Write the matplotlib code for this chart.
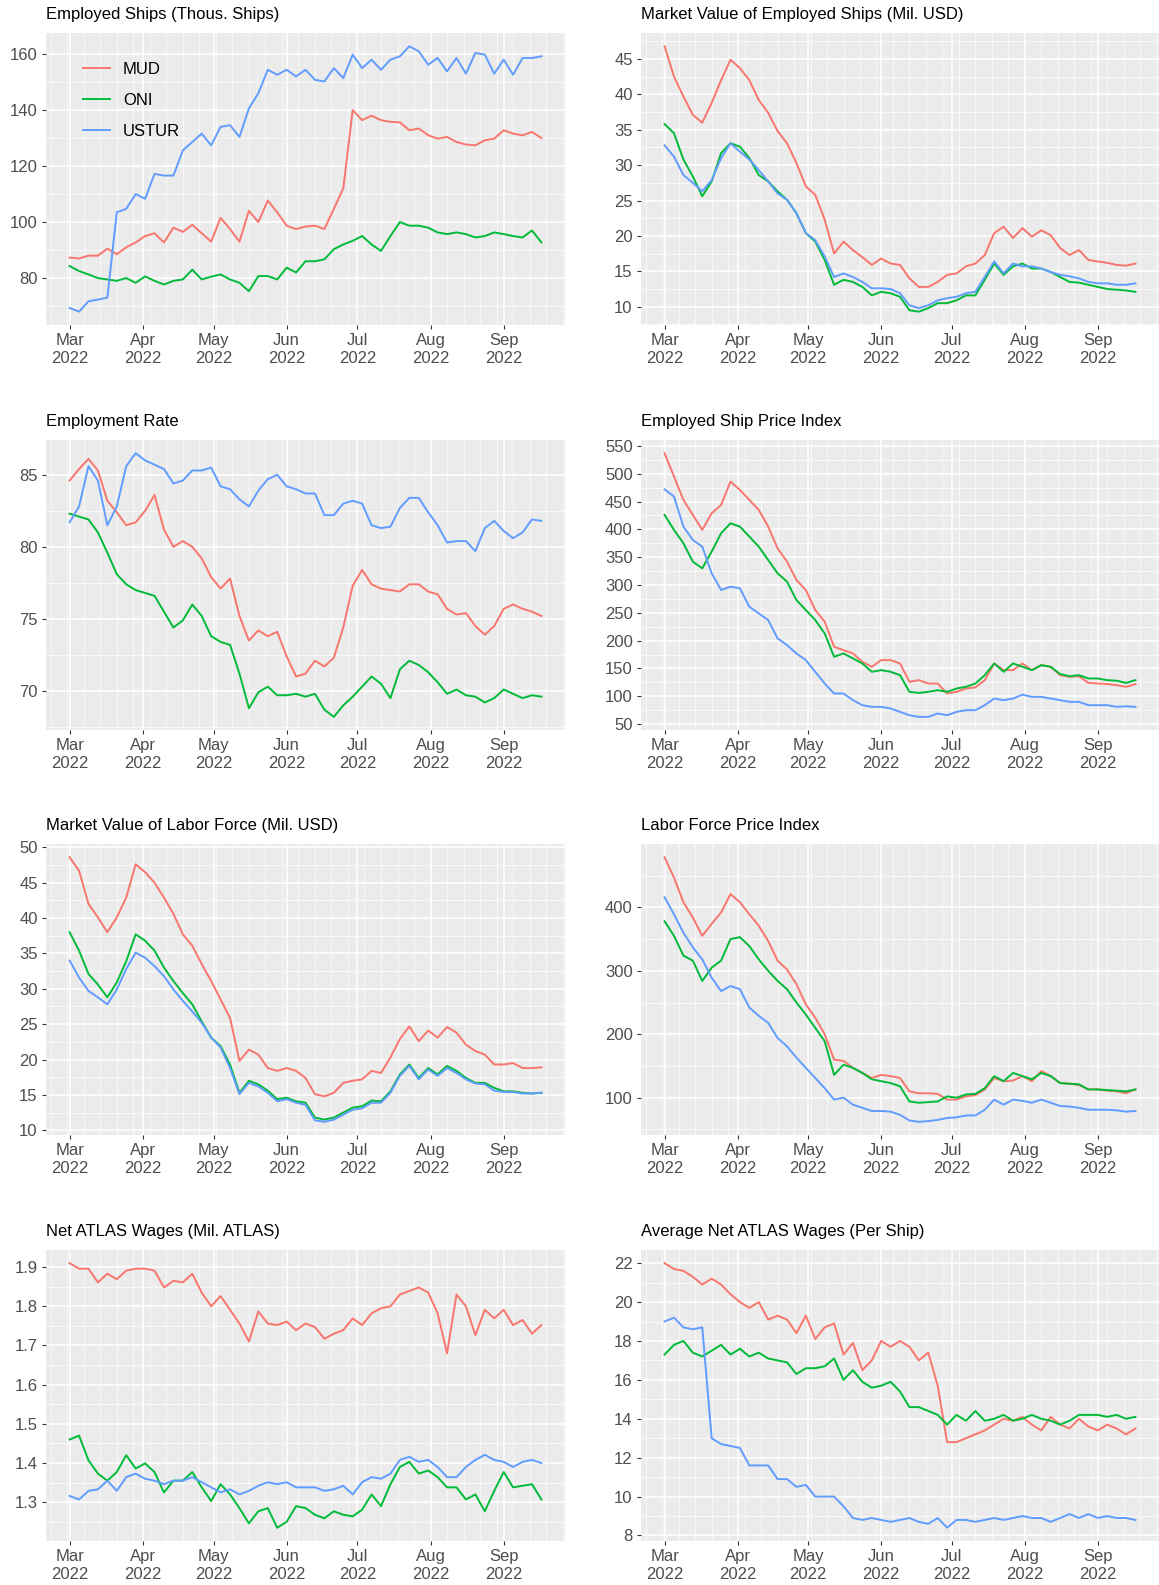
import pandas as pd
import matplotlib
matplotlib.use('Agg')
from matplotlib import pyplot as plt
import matplotlib.dates as mdates
from matplotlib.ticker import MultipleLocator

plt.rcParams['font.family'] = ['Liberation Sans', 'DejaVu Sans']

# every 4th day, 1 Mar .. 17 Sep 2022
dates = pd.date_range('2022-03-01', '2022-09-17', freq='4D')
groups = ['MUD', 'ONI', 'USTUR']
colors = ['#F8766D', '#00BA38', '#619CFF']

ships_mud = [87.3, 87, 88, 88, 90.5, 88.5, 91, 92.7, 95, 96, 92.7, 98, 96.5, 99, 96, 93, 101.5, 97.5, 93, 104,
             100, 107.7, 103.5, 98.7, 97.5, 98.4, 98.7, 97.5, 104.7, 112, 140, 136.4, 138, 136.4, 135.8, 135.6,
             132.8, 133.4, 131, 129.8, 130.4, 128.6, 127.7, 127.4, 129.2, 129.8, 132.8, 131.6, 131, 132.2, 130]
ships_oni = [84.3, 82.5, 81.3, 80, 79.5, 79, 80, 78.3, 80.6, 79, 77.7, 79, 79.5, 83, 79.5, 80.5, 81.3, 79.5, 78.3,
             75.3, 80.7, 80.7, 79.5, 83.7, 82, 86, 86, 86.7, 90.3, 92, 93.3, 95, 92, 89.7, 95, 100, 98.7, 98.7,
             98, 96.3, 95.7, 96.3, 95.7, 94.5, 95, 96.3, 95.7, 95, 94.5, 97, 92.7]
ships_ustur = [69.3, 68, 71.7, 72.3, 73, 103.5, 104.7, 110, 108.3, 117.2, 116.6, 116.6, 125.6, 128.6, 131.6,
               127.4, 134, 134.6, 130.4, 140.6, 146, 154.4, 152.6, 154.4, 152, 154.4, 150.8, 150.2, 155, 151.4,
               159.8, 155, 158, 154.4, 158, 159.2, 162.8, 161, 156.2, 158.6, 153.8, 158.6, 153, 160.4, 159.8,
               153, 158, 152.6, 158.6, 158.6, 159.2]

mv_ships_mud = [46.8, 42.5, 39.7, 37.1, 36, 38.8, 42, 44.9, 43.7, 42, 39.2, 37.4, 34.8, 33.1, 30.3, 27, 25.8,
                22.3, 17.5, 19.2, 18, 17, 15.9, 16.8, 16.1, 15.9, 14, 12.8, 12.8, 13.5, 14.5, 14.7, 15.7, 16.1,
                17.3, 20.4, 21.3, 19.7, 21.1, 19.9, 20.8, 20.1, 18.3, 17.3, 18, 16.6, 16.4, 16.2, 15.9, 15.8, 16.1]
mv_ships_oni = [35.8, 34.5, 30.8, 28.4, 25.6, 27.7, 31.7, 33.1, 32.6, 31, 28.6, 27.7, 26.3, 25.1, 23.2, 20.4,
                19.2, 16.6, 13.1, 13.8, 13.5, 12.8, 11.6, 12.1, 11.9, 11.4, 9.5, 9.3, 9.8, 10.5, 10.5, 10.9, 11.6,
                11.6, 13.8, 16.1, 14.5, 15.7, 16.1, 15.4, 15.4, 14.9, 14.2, 13.5, 13.4, 13.1, 12.8, 12.5, 12.4,
                12.3, 12.1]
mv_ships_ustur = [32.8, 31.2, 28.6, 27.5, 26.3, 27.9, 31, 33.1, 31.9, 30.8, 29.3, 27.7, 26, 25.1, 23.2, 20.4,
                  19.4, 17.1, 14.2, 14.7, 14.2, 13.5, 12.6, 12.6, 12.5, 11.9, 10.2, 9.8, 10.2, 10.9, 11.2, 11.4,
                  11.9, 12.1, 14.2, 16.4, 14.7, 16.1, 15.7, 15.7, 15.4, 14.9, 14.5, 14.3, 14, 13.5, 13.3, 13.3,
                  13.1, 13.1, 13.3]

rate_mud = [84.6, 85.4, 86.1, 85.3, 83.2, 82.4, 81.5, 81.7, 82.5, 83.6, 81.2, 80, 80.4, 80, 79.2, 77.9, 77.1,
            77.8, 75.2, 73.5, 74.2, 73.8, 74.1, 72.4, 71, 71.2, 72.1, 71.7, 72.3, 74.4, 77.3, 78.4, 77.4, 77.1,
            77, 76.9, 77.4, 77.4, 76.9, 76.7, 75.7, 75.3, 75.4, 74.5, 73.9, 74.5, 75.7, 76, 75.7, 75.5, 75.2]
rate_oni = [82.3, 82.1, 81.9, 81, 79.6, 78.1, 77.4, 77, 76.8, 76.6, 75.5, 74.4, 74.9, 76, 75.2, 73.8, 73.4,
            73.2, 71.2, 68.8, 69.9, 70.3, 69.7, 69.7, 69.8, 69.6, 69.8, 68.7, 68.2, 69, 69.6, 70.3, 71, 70.5,
            69.5, 71.5, 72.1, 71.8, 71.3, 70.6, 69.8, 70.1, 69.7, 69.6, 69.2, 69.5, 70.1, 69.8, 69.5, 69.7, 69.6]
rate_ustur = [81.7, 82.8, 85.6, 84.6, 81.5, 82.8, 85.6, 86.5, 86, 85.7, 85.4, 84.4, 84.6, 85.3, 85.3, 85.5,
              84.2, 84, 83.3, 82.8, 83.9, 84.7, 85, 84.2, 84, 83.7, 83.7, 82.2, 82.2, 83, 83.2, 83, 81.5, 81.3,
              81.4, 82.7, 83.4, 83.4, 82.4, 81.5, 80.3, 80.4, 80.4, 79.7, 81.3, 81.8, 81.1, 80.6, 81, 81.9, 81.8]

spi_mud = [537, 495, 453, 426, 399, 429, 444, 486, 471, 453, 435, 405, 366, 342, 309, 291, 255, 234, 189, 183,
           177, 162, 153, 165, 165, 159, 126, 129, 123, 123, 105, 108, 114, 116, 129, 159, 147, 147, 159, 147,
           156, 153, 138, 135, 136, 124, 123, 122, 120, 117, 122]
spi_oni = [426, 399, 375, 342, 330, 360, 393, 411, 405, 387, 369, 345, 321, 306, 273, 255, 237, 213, 171, 177,
           168, 159, 144, 147, 144, 138, 108, 106, 108, 111, 108, 114, 117, 123, 138, 159, 144, 159, 153, 147,
           156, 153, 140, 136, 138, 132, 132, 129, 128, 124, 129]
spi_ustur = [472, 459, 405, 381, 369, 321, 291, 297, 294, 261, 249, 237, 204, 192, 177, 165, 144, 123, 105, 105,
             93, 84, 81, 81, 78, 72, 66, 63, 63, 69, 66, 72, 75, 75, 84, 96, 93, 96, 103, 99, 99, 96, 93, 90, 90,
             84, 84, 84, 81, 82, 81]

mv_labor_mud = [48.6, 46.7, 42, 40.1, 38, 40.1, 42.9, 47.6, 46.5, 45, 42.9, 40.6, 37.7, 36.1, 33.5, 31.1, 28.5,
                25.9, 19.8, 21.4, 20.7, 18.8, 18.4, 18.8, 18.4, 17.4, 15.1, 14.8, 15.3, 16.7, 17, 17.2, 18.4,
                18.1, 20.3, 22.9, 24.7, 22.6, 24.1, 23.1, 24.6, 23.8, 22.1, 21.2, 20.7, 19.3, 19.3, 19.5, 18.8,
                18.8, 18.9]
mv_labor_oni = [38, 35.4, 32.1, 30.6, 28.8, 30.9, 33.9, 37.7, 36.8, 35.4, 33, 31.1, 29.4, 27.8, 25.4, 23.1, 21.9,
                19.3, 15.3, 17, 16.5, 15.6, 14.4, 14.6, 14.1, 13.9, 11.8, 11.5, 11.8, 12.5, 13.2, 13.4, 14.2,
                14.1, 15.5, 17.9, 19.3, 17.4, 18.8, 17.9, 19.1, 18.4, 17.4, 16.7, 16.7, 16, 15.5, 15.5, 15.3,
                15.2, 15.3]
mv_labor_ustur = [34, 31.6, 29.7, 28.8, 27.8, 29.9, 32.8, 35.1, 34.4, 33.2, 31.8, 29.9, 28.3, 26.8, 25.2, 23.1,
                  21.7, 18.8, 15.1, 16.7, 16.2, 15.3, 14.1, 14.4, 13.9, 13.6, 11.4, 11.2, 11.5, 12.2, 12.9, 13.1,
                  13.9, 13.9, 15.3, 17.7, 19.1, 17.2, 18.6, 17.7, 18.8, 18.1, 17.2, 16.6, 16.5, 15.6, 15.4, 15.4,
                  15.2, 15.2, 15.3]

lpi_mud = [479, 447, 408, 384, 355, 374, 392, 421, 408, 389, 371, 347, 316, 302, 279, 247, 226, 200, 160, 158,
           147, 139, 131, 136, 134, 131, 110, 107, 107, 106, 97, 97, 102, 104, 113, 131, 126, 127, 134, 126, 142,
           134, 123, 122, 120, 113, 113, 111, 110, 107, 113]
lpi_oni = [378, 355, 324, 316, 284, 305, 316, 350, 353, 339, 318, 300, 284, 271, 250, 231, 210, 189, 136, 152,
           147, 139, 129, 126, 123, 118, 94, 92, 93, 94, 102, 100, 105, 106, 115, 134, 126, 139, 134, 129, 139,
           134, 123, 122, 121, 113, 113, 112, 111, 110, 113]
lpi_ustur = [416, 389, 360, 337, 318, 289, 268, 276, 271, 242, 229, 218, 194, 181, 163, 147, 131, 115, 97, 100,
             89, 84, 79, 79, 78, 73, 64, 62, 63, 65, 68, 69, 72, 72, 81, 97, 89, 97, 95, 92, 97, 92, 87, 86, 84,
             81, 81, 81, 80, 78, 79]

wages_mud = [1.91, 1.896, 1.896, 1.861, 1.883, 1.869, 1.891, 1.896, 1.896, 1.891, 1.848, 1.865, 1.861, 1.883,
             1.835, 1.8, 1.826, 1.791, 1.756, 1.71, 1.787, 1.756, 1.752, 1.761, 1.739, 1.756, 1.747, 1.717, 1.73,
             1.739, 1.769, 1.752, 1.782, 1.795, 1.8, 1.83, 1.839, 1.848, 1.835, 1.782, 1.68, 1.83, 1.8, 1.726,
             1.791, 1.769, 1.791, 1.752, 1.765, 1.73, 1.752]
wages_oni = [1.46, 1.47, 1.407, 1.373, 1.355, 1.377, 1.42, 1.386, 1.399, 1.377, 1.325, 1.355, 1.355, 1.377,
             1.338, 1.303, 1.346, 1.32, 1.285, 1.246, 1.277, 1.285, 1.235, 1.25, 1.29, 1.285, 1.268, 1.259, 1.277,
             1.268, 1.264, 1.281, 1.32, 1.29, 1.346, 1.39, 1.403, 1.373, 1.381, 1.364, 1.338, 1.338, 1.307, 1.32,
             1.277, 1.329, 1.377, 1.338, 1.342, 1.346, 1.307]
wages_ustur = [1.316, 1.307, 1.329, 1.333, 1.355, 1.329, 1.364, 1.373, 1.36, 1.355, 1.346, 1.355, 1.355, 1.364,
               1.351, 1.338, 1.325, 1.333, 1.32, 1.329, 1.342, 1.351, 1.346, 1.351, 1.338, 1.338, 1.338, 1.329,
               1.333, 1.342, 1.32, 1.351, 1.364, 1.36, 1.373, 1.408, 1.416, 1.403, 1.408, 1.39, 1.364, 1.364,
               1.39, 1.408, 1.421, 1.408, 1.403, 1.39, 1.403, 1.408, 1.4]

avg_mud = [22, 21.7, 21.6, 21.3, 20.9, 21.2, 20.9, 20.4, 20, 19.7, 20, 19.1, 19.3, 19.1, 18.4, 19.3, 18.1, 18.7,
           18.9, 17.3, 17.9, 16.5, 17, 18, 17.7, 18, 17.7, 17, 17.4, 15.7, 12.8, 12.8, 13, 13.2, 13.4, 13.7, 14,
           13.9, 14.1, 13.7, 13.4, 14.1, 13.7, 13.5, 14, 13.6, 13.4, 13.7, 13.5, 13.2, 13.5]
avg_oni = [17.3, 17.8, 18, 17.4, 17.2, 17.5, 17.8, 17.3, 17.6, 17.2, 17.4, 17.1, 17, 16.9, 16.3, 16.6, 16.6, 16.7,
           17.1, 16, 16.5, 15.9, 15.6, 15.7, 15.9, 15.4, 14.6, 14.6, 14.4, 14.2, 13.7, 14.2, 13.9, 14.4, 13.9, 14,
           14.2, 13.9, 14, 14.2, 14, 13.9, 13.7, 13.9, 14.2, 14.2, 14.2, 14.1, 14.2, 14, 14.1]
avg_ustur = [19, 19.2, 18.7, 18.6, 18.7, 13, 12.7, 12.6, 12.5, 11.6, 11.6, 11.6, 10.9, 10.9, 10.5, 10.6, 10, 10,
             10, 9.5, 8.9, 8.8, 8.9, 8.8, 8.7, 8.8, 8.9, 8.7, 8.6, 8.9, 8.4, 8.8, 8.8, 8.7, 8.8, 8.9, 8.8, 8.9, 9,
             8.9, 8.9, 8.7, 8.9, 9.1, 8.9, 9.1, 8.9, 9, 8.9, 8.9, 8.8]

titles = ['Employed Ships (Thous. Ships)', 'Market Value of Employed Ships (Mil. USD)',
          'Employment Rate', 'Employed Ship Price Index',
          'Market Value of Labor Force (Mil. USD)', 'Labor Force Price Index',
          'Net ATLAS Wages (Mil. ATLAS)', 'Average Net ATLAS Wages (Per Ship)']
panels = [(ships_mud, ships_oni, ships_ustur), (mv_ships_mud, mv_ships_oni, mv_ships_ustur),
          (rate_mud, rate_oni, rate_ustur), (spi_mud, spi_oni, spi_ustur),
          (mv_labor_mud, mv_labor_oni, mv_labor_ustur), (lpi_mud, lpi_oni, lpi_ustur),
          (wages_mud, wages_oni, wages_ustur), (avg_mud, avg_oni, avg_ustur)]
ysteps = [20, 5, 5, 50, 5, 100, 0.1, 2]

fig = plt.figure(figsize=(11.59, 15.85), dpi=100)
cols = [(0.0397, 0.4478), (0.5531, 0.4469)]
rows = [(0.7950, 0.1842), (0.5394, 0.1830), (0.2839, 0.1836), (0.0278, 0.1836)]

for i, (title, series, step) in enumerate(zip(titles, panels, ysteps)):
    x0, w = cols[i % 2]
    y0, h = rows[i // 2]
    ax = fig.add_axes([x0, y0, w, h])
    ax.set_facecolor('#EBEBEB')
    for vals, c, g in zip(series, colors, groups):
        ax.plot(dates, vals, color=c, lw=1.4, label=g)
    ax.xaxis.set_major_locator(mdates.MonthLocator())
    ax.xaxis.set_major_formatter(mdates.DateFormatter('%b\n%Y'))
    ax.xaxis.set_minor_locator(mdates.WeekdayLocator(byweekday=mdates.MO))
    ax.yaxis.set_major_locator(MultipleLocator(step))
    ax.yaxis.set_minor_locator(MultipleLocator(step / 2))
    if step == 0.1:
        ax.yaxis.set_major_formatter(plt.FuncFormatter(lambda v, p: '%.1f' % v))
    ax.grid(which='major', color='white', lw=1.1)
    ax.grid(which='minor', color='white', lw=0.5)
    ax.set_axisbelow(True)
    for s in ax.spines.values():
        s.set_visible(False)
    ax.tick_params(which='major', length=3, width=0.8, color='#333333', labelcolor='#4D4D4D',
                   labelsize=12, pad=3)
    ax.tick_params(which='minor', length=0)
    for lab in ax.get_xticklabels():
        lab.set_linespacing(1.25)
    ax.set_title(title, loc='left', fontsize=12, pad=10, color='black')
    if i == 0:
        ax.legend(loc='upper left', bbox_to_anchor=(0.071, 0.90), frameon=False, fontsize=12,
                  borderpad=0, borderaxespad=0, handlelength=1.6, handletextpad=0.8, labelspacing=0.95)

fig.savefig('out.png', dpi=100)
